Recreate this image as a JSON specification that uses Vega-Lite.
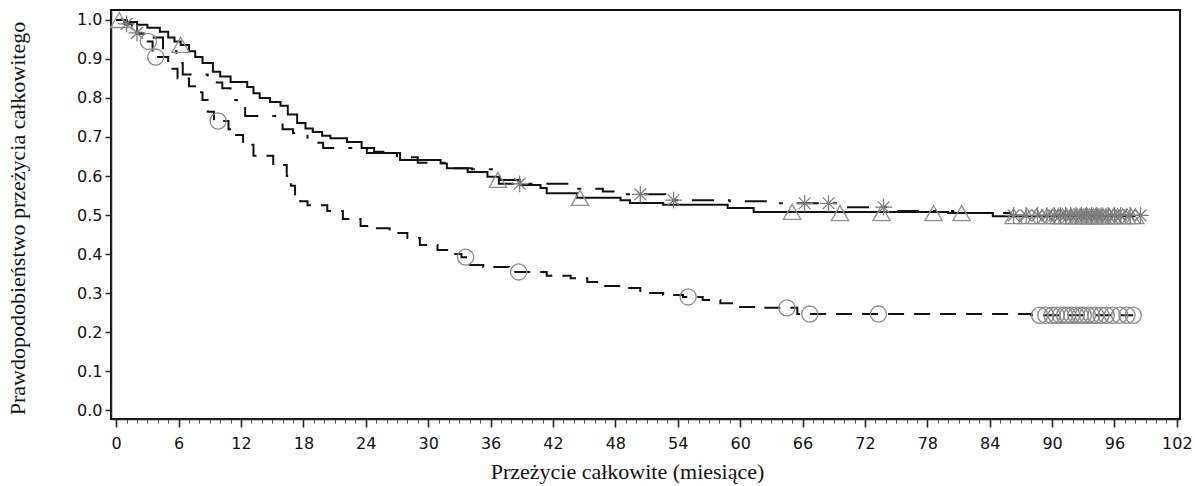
{
  "$schema": "https://vega.github.io/schema/vega-lite/v6.json",
  "width": 1069,
  "height": 409,
  "autosize": {"type": "none"},
  "padding": {"left": 111, "top": 10, "right": 15, "bottom": 67},
  "background": "white",
  "title": {
    "text": "Analiza przeżycia",
    "anchor": "start",
    "dx": 366,
    "offset": 7,
    "baseline": "alphabetic",
    "font": "Liberation Sans",
    "fontSize": 19,
    "fontWeight": "bold",
    "color": "black"
  },
  "config": {
    "view": {"stroke": "#111", "strokeWidth": 2},
    "axis": {"grid": false, "labelFont": "DejaVu Sans", "labelFontSize": 16, "labelColor": "#111", "tickColor": "#222", "domainColor": "#222", "domainWidth": 1.5, "tickWidth": 1.5, "titleFont": "Liberation Serif", "titleFontWeight": "normal", "titleFontSize": 22, "titleColor": "#111"}
  },
  "resolve": {"axis": {"x": "independent"}},
  "datasets": {
    "curves": [
      {"g": "A", "t": 0, "s": 1.0}, {"g": "A", "t": 1.0, "s": 0.995}, {"g": "A", "t": 2.0, "s": 0.988}, {"g": "A", "t": 3.0, "s": 0.98}, {"g": "A", "t": 4.2, "s": 0.97}, {"g": "A", "t": 5.0, "s": 0.955}, {"g": "A", "t": 5.6, "s": 0.945}, {"g": "A", "t": 6.2, "s": 0.936}, {"g": "A", "t": 7.0, "s": 0.92}, {"g": "A", "t": 7.6, "s": 0.905}, {"g": "A", "t": 8.3, "s": 0.89}, {"g": "A", "t": 9.3, "s": 0.867}, {"g": "A", "t": 10.0, "s": 0.855}, {"g": "A", "t": 11.0, "s": 0.841}, {"g": "A", "t": 12.6, "s": 0.828}, {"g": "A", "t": 13.2, "s": 0.812}, {"g": "A", "t": 13.8, "s": 0.80}, {"g": "A", "t": 14.8, "s": 0.79}, {"g": "A", "t": 15.8, "s": 0.78}, {"g": "A", "t": 16.5, "s": 0.758}, {"g": "A", "t": 17.4, "s": 0.736}, {"g": "A", "t": 18.2, "s": 0.722}, {"g": "A", "t": 18.9, "s": 0.713}, {"g": "A", "t": 19.8, "s": 0.703}, {"g": "A", "t": 20.6, "s": 0.697}, {"g": "A", "t": 22.2, "s": 0.687}, {"g": "A", "t": 23.6, "s": 0.672}, {"g": "A", "t": 24.1, "s": 0.659}, {"g": "A", "t": 27.3, "s": 0.641}, {"g": "A", "t": 31.2, "s": 0.632}, {"g": "A", "t": 31.8, "s": 0.62}, {"g": "A", "t": 33.8, "s": 0.61}, {"g": "A", "t": 35.7, "s": 0.598}, {"g": "A", "t": 36.9, "s": 0.59}, {"g": "A", "t": 38.8, "s": 0.577}, {"g": "A", "t": 40.8, "s": 0.569}, {"g": "A", "t": 41.4, "s": 0.556}, {"g": "A", "t": 44.3, "s": 0.544}, {"g": "A", "t": 48.5, "s": 0.538}, {"g": "A", "t": 49.4, "s": 0.531}, {"g": "A", "t": 52.6, "s": 0.526}, {"g": "A", "t": 58.8, "s": 0.518}, {"g": "A", "t": 61.3, "s": 0.508}, {"g": "A", "t": 80.0, "s": 0.505}, {"g": "A", "t": 84.3, "s": 0.497}, {"g": "A", "t": 98.0, "s": 0.497},
      {"g": "B", "t": 0, "s": 1.0}, {"g": "B", "t": 0.8, "s": 0.99}, {"g": "B", "t": 1.5, "s": 0.98}, {"g": "B", "t": 2.3, "s": 0.967}, {"g": "B", "t": 3.0, "s": 0.955}, {"g": "B", "t": 4.5, "s": 0.92}, {"g": "B", "t": 5.8, "s": 0.89}, {"g": "B", "t": 6.4, "s": 0.86}, {"g": "B", "t": 8.8, "s": 0.84}, {"g": "B", "t": 10.2, "s": 0.825}, {"g": "B", "t": 11.0, "s": 0.795}, {"g": "B", "t": 11.6, "s": 0.777}, {"g": "B", "t": 12.4, "s": 0.754}, {"g": "B", "t": 15.4, "s": 0.736}, {"g": "B", "t": 16.0, "s": 0.72}, {"g": "B", "t": 17.0, "s": 0.71}, {"g": "B", "t": 18.4, "s": 0.685}, {"g": "B", "t": 19.9, "s": 0.672}, {"g": "B", "t": 24.8, "s": 0.662}, {"g": "B", "t": 27.0, "s": 0.648}, {"g": "B", "t": 29.0, "s": 0.634}, {"g": "B", "t": 32.2, "s": 0.62}, {"g": "B", "t": 34.2, "s": 0.617}, {"g": "B", "t": 36.8, "s": 0.58}, {"g": "B", "t": 43.5, "s": 0.567}, {"g": "B", "t": 46.8, "s": 0.56}, {"g": "B", "t": 48.5, "s": 0.553}, {"g": "B", "t": 52.8, "s": 0.538}, {"g": "B", "t": 59.0, "s": 0.535}, {"g": "B", "t": 62.8, "s": 0.53}, {"g": "B", "t": 70.0, "s": 0.52}, {"g": "B", "t": 75.2, "s": 0.51}, {"g": "B", "t": 80.5, "s": 0.505}, {"g": "B", "t": 86.0, "s": 0.499}, {"g": "B", "t": 98.5, "s": 0.499},
      {"g": "C", "t": 0, "s": 1.0}, {"g": "C", "t": 1.0, "s": 0.985}, {"g": "C", "t": 2.0, "s": 0.965}, {"g": "C", "t": 2.8, "s": 0.945}, {"g": "C", "t": 3.5, "s": 0.905}, {"g": "C", "t": 5.0, "s": 0.875}, {"g": "C", "t": 5.9, "s": 0.85}, {"g": "C", "t": 7.0, "s": 0.83}, {"g": "C", "t": 7.8, "s": 0.815}, {"g": "C", "t": 8.3, "s": 0.795}, {"g": "C", "t": 8.8, "s": 0.765}, {"g": "C", "t": 9.4, "s": 0.741}, {"g": "C", "t": 10.8, "s": 0.72}, {"g": "C", "t": 11.3, "s": 0.705}, {"g": "C", "t": 12.2, "s": 0.68}, {"g": "C", "t": 13.2, "s": 0.652}, {"g": "C", "t": 15.1, "s": 0.628}, {"g": "C", "t": 16.4, "s": 0.60}, {"g": "C", "t": 16.8, "s": 0.575}, {"g": "C", "t": 17.2, "s": 0.55}, {"g": "C", "t": 17.7, "s": 0.535}, {"g": "C", "t": 18.4, "s": 0.525}, {"g": "C", "t": 20.3, "s": 0.51}, {"g": "C", "t": 21.8, "s": 0.49}, {"g": "C", "t": 23.5, "s": 0.472}, {"g": "C", "t": 24.7, "s": 0.466}, {"g": "C", "t": 26.3, "s": 0.454}, {"g": "C", "t": 28.0, "s": 0.441}, {"g": "C", "t": 29.2, "s": 0.423}, {"g": "C", "t": 30.9, "s": 0.41}, {"g": "C", "t": 32.6, "s": 0.40}, {"g": "C", "t": 33.2, "s": 0.392}, {"g": "C", "t": 34.0, "s": 0.372}, {"g": "C", "t": 35.3, "s": 0.367}, {"g": "C", "t": 37.8, "s": 0.354}, {"g": "C", "t": 41.4, "s": 0.344}, {"g": "C", "t": 43.7, "s": 0.338}, {"g": "C", "t": 45.3, "s": 0.328}, {"g": "C", "t": 46.8, "s": 0.318}, {"g": "C", "t": 48.8, "s": 0.313}, {"g": "C", "t": 50.4, "s": 0.30}, {"g": "C", "t": 52.6, "s": 0.295}, {"g": "C", "t": 54.5, "s": 0.29}, {"g": "C", "t": 56.4, "s": 0.282}, {"g": "C", "t": 58.1, "s": 0.274}, {"g": "C", "t": 60.0, "s": 0.264}, {"g": "C", "t": 62.2, "s": 0.262}, {"g": "C", "t": 65.5, "s": 0.246}, {"g": "C", "t": 88.0, "s": 0.243}, {"g": "C", "t": 97.8, "s": 0.243}
    ],
    "censor": [
      {"g": "A", "t": 0.3, "s": 1.0}, {"g": "A", "t": 6.2, "s": 0.936}, {"g": "A", "t": 36.7, "s": 0.59}, {"g": "A", "t": 44.6, "s": 0.544}, {"g": "A", "t": 65.0, "s": 0.508}, {"g": "A", "t": 69.6, "s": 0.505}, {"g": "A", "t": 73.6, "s": 0.505}, {"g": "A", "t": 78.6, "s": 0.505}, {"g": "A", "t": 81.3, "s": 0.505}, {"g": "A", "t": 86.3, "s": 0.497}, {"g": "A", "t": 87.6, "s": 0.497}, {"g": "A", "t": 88.5, "s": 0.497}, {"g": "A", "t": 89.5, "s": 0.497}, {"g": "A", "t": 90.1, "s": 0.497}, {"g": "A", "t": 90.6, "s": 0.497}, {"g": "A", "t": 91.0, "s": 0.497}, {"g": "A", "t": 91.4, "s": 0.497}, {"g": "A", "t": 91.8, "s": 0.497}, {"g": "A", "t": 92.1, "s": 0.497}, {"g": "A", "t": 92.4, "s": 0.497}, {"g": "A", "t": 92.7, "s": 0.497}, {"g": "A", "t": 93.0, "s": 0.497}, {"g": "A", "t": 93.2, "s": 0.497}, {"g": "A", "t": 93.4, "s": 0.497}, {"g": "A", "t": 93.6, "s": 0.497}, {"g": "A", "t": 93.8, "s": 0.497}, {"g": "A", "t": 94.0, "s": 0.497}, {"g": "A", "t": 94.2, "s": 0.497}, {"g": "A", "t": 94.4, "s": 0.497}, {"g": "A", "t": 94.6, "s": 0.497}, {"g": "A", "t": 94.9, "s": 0.497}, {"g": "A", "t": 95.2, "s": 0.497}, {"g": "A", "t": 95.5, "s": 0.497}, {"g": "A", "t": 95.9, "s": 0.497}, {"g": "A", "t": 96.3, "s": 0.497}, {"g": "A", "t": 96.8, "s": 0.497}, {"g": "A", "t": 97.2, "s": 0.497}, {"g": "A", "t": 97.6, "s": 0.497}, {"g": "A", "t": 98.0, "s": 0.497},
      {"g": "B", "t": 1.0, "s": 0.99}, {"g": "B", "t": 2.0, "s": 0.967}, {"g": "B", "t": 38.8, "s": 0.58}, {"g": "B", "t": 50.4, "s": 0.553}, {"g": "B", "t": 53.6, "s": 0.538}, {"g": "B", "t": 66.2, "s": 0.53}, {"g": "B", "t": 68.5, "s": 0.53}, {"g": "B", "t": 73.8, "s": 0.52}, {"g": "B", "t": 86.3, "s": 0.499}, {"g": "B", "t": 87.5, "s": 0.499}, {"g": "B", "t": 88.6, "s": 0.499}, {"g": "B", "t": 89.5, "s": 0.499}, {"g": "B", "t": 90.2, "s": 0.499}, {"g": "B", "t": 90.8, "s": 0.499}, {"g": "B", "t": 91.3, "s": 0.499}, {"g": "B", "t": 91.8, "s": 0.499}, {"g": "B", "t": 92.3, "s": 0.499}, {"g": "B", "t": 92.8, "s": 0.499}, {"g": "B", "t": 93.3, "s": 0.499}, {"g": "B", "t": 93.8, "s": 0.499}, {"g": "B", "t": 94.3, "s": 0.499}, {"g": "B", "t": 94.8, "s": 0.499}, {"g": "B", "t": 95.4, "s": 0.499}, {"g": "B", "t": 96.0, "s": 0.499}, {"g": "B", "t": 96.6, "s": 0.499}, {"g": "B", "t": 97.5, "s": 0.499}, {"g": "B", "t": 98.5, "s": 0.499},
      {"g": "C", "t": 3.1, "s": 0.945}, {"g": "C", "t": 3.8, "s": 0.905}, {"g": "C", "t": 9.8, "s": 0.741}, {"g": "C", "t": 33.6, "s": 0.392}, {"g": "C", "t": 38.7, "s": 0.354}, {"g": "C", "t": 55.0, "s": 0.29}, {"g": "C", "t": 64.5, "s": 0.262}, {"g": "C", "t": 66.7, "s": 0.246}, {"g": "C", "t": 73.3, "s": 0.246}, {"g": "C", "t": 88.8, "s": 0.243}, {"g": "C", "t": 89.4, "s": 0.243}, {"g": "C", "t": 90.0, "s": 0.243}, {"g": "C", "t": 90.4, "s": 0.243}, {"g": "C", "t": 90.8, "s": 0.243}, {"g": "C", "t": 91.2, "s": 0.243}, {"g": "C", "t": 91.5, "s": 0.243}, {"g": "C", "t": 91.9, "s": 0.243}, {"g": "C", "t": 92.3, "s": 0.243}, {"g": "C", "t": 92.7, "s": 0.243}, {"g": "C", "t": 93.0, "s": 0.243}, {"g": "C", "t": 93.4, "s": 0.243}, {"g": "C", "t": 93.8, "s": 0.243}, {"g": "C", "t": 94.2, "s": 0.243}, {"g": "C", "t": 94.7, "s": 0.243}, {"g": "C", "t": 95.2, "s": 0.243}, {"g": "C", "t": 95.8, "s": 0.243}, {"g": "C", "t": 96.5, "s": 0.243}, {"g": "C", "t": 97.2, "s": 0.243}, {"g": "C", "t": 97.8, "s": 0.243}
    ]
  },
  "layer": [
    {
      "data": {"name": "curves"},
      "transform": [{"filter": "datum.g === 'A'"}],
      "mark": {"type": "line", "interpolate": "step-after", "color": "#111", "strokeWidth": 2},
      "encoding": {
        "x": {"field": "t", "type": "quantitative", "scale": {"domain": [-0.5, 102.3], "nice": false, "zero": false},
          "axis": {"orient": "bottom", "values": [1,2,3,4,5,7,8,9,10,11,13,14,15,16,17,19,20,21,22,23,25,26,27,28,29,31,32,33,34,35,37,38,39,40,41,43,44,45,46,47,49,50,51,52,53,55,56,57,58,59,61,62,63,64,65,67,68,69,70,71,73,74,75,76,77,79,80,81,82,83,85,86,87,88,89,91,92,93,94,95,97,98,99,100,101],
            "labels": false, "tickSize": 4, "tickWidth": 1, "tickColor": "#555", "domain": false, "title": null, "zindex": 0}},
        "y": {"field": "s", "type": "quantitative", "scale": {"domain": [-0.023, 1.0256], "nice": false, "zero": false},
          "axis": {"values": [0, 0.1, 0.2, 0.3, 0.4, 0.5, 0.6, 0.7, 0.8, 0.9, 1.0], "format": ".1f", "tickSize": 6, "labelPadding": 3, "title": "Prawdopodobieństwo przeżycia całkowitego", "titleX": -82, "titleY": 208, "labelFlush": false}}
      }
    },
    {
      "data": {"name": "curves"},
      "transform": [{"filter": "datum.g === 'B'"}],
      "mark": {"type": "line", "interpolate": "step-after", "color": "#111", "strokeWidth": 2, "strokeDash": [22, 14, 4, 14]},
      "encoding": {
        "x": {"field": "t", "type": "quantitative",
          "axis": {"orient": "bottom", "values": [0, 6, 12, 18, 24, 30, 36, 42, 48, 54, 60, 66, 72, 78, 84, 90, 96, 102], "tickSize": 8, "tickWidth": 1.6, "labelPadding": 8, "labelFlush": false, "title": "Przeżycie całkowite (miesiące)", "titleX": 516, "titleY": 42}},
        "y": {"field": "s", "type": "quantitative"}
      }
    },
    {
      "data": {"name": "curves"},
      "transform": [{"filter": "datum.g === 'C'"}],
      "mark": {"type": "line", "interpolate": "step-after", "color": "#111", "strokeWidth": 2, "strokeDash": [16, 10]},
      "encoding": {
        "x": {"field": "t", "type": "quantitative", "axis": null},
        "y": {"field": "s", "type": "quantitative"}
      }
    },
    {
      "data": {"name": "censor"},
      "transform": [{"filter": "datum.g === 'A'"}],
      "mark": {"type": "point", "shape": "triangle-up", "filled": false, "color": "#8f8f8f", "strokeWidth": 1.3, "size": 300, "opacity": 1},
      "encoding": {
        "x": {"field": "t", "type": "quantitative", "axis": null},
        "y": {"field": "s", "type": "quantitative"}
      }
    },
    {
      "data": {"name": "censor"},
      "transform": [{"filter": "datum.g === 'B'"}],
      "mark": {"type": "point", "shape": "M-1,0L1,0M0,-1L0,1M-0.7,-0.7L0.7,0.7M-0.7,0.7L0.7,-0.7", "filled": false, "color": "#7a7a7a", "strokeWidth": 1.2, "size": 280, "opacity": 1},
      "encoding": {
        "x": {"field": "t", "type": "quantitative", "axis": null},
        "y": {"field": "s", "type": "quantitative"}
      }
    },
    {
      "data": {"name": "censor"},
      "transform": [{"filter": "datum.g === 'C'"}],
      "mark": {"type": "point", "shape": "circle", "filled": false, "color": "#8a8a8a", "strokeWidth": 1.3, "size": 260, "opacity": 1},
      "encoding": {
        "x": {"field": "t", "type": "quantitative", "axis": null},
        "y": {"field": "s", "type": "quantitative"}
      }
    }
  ]
}
